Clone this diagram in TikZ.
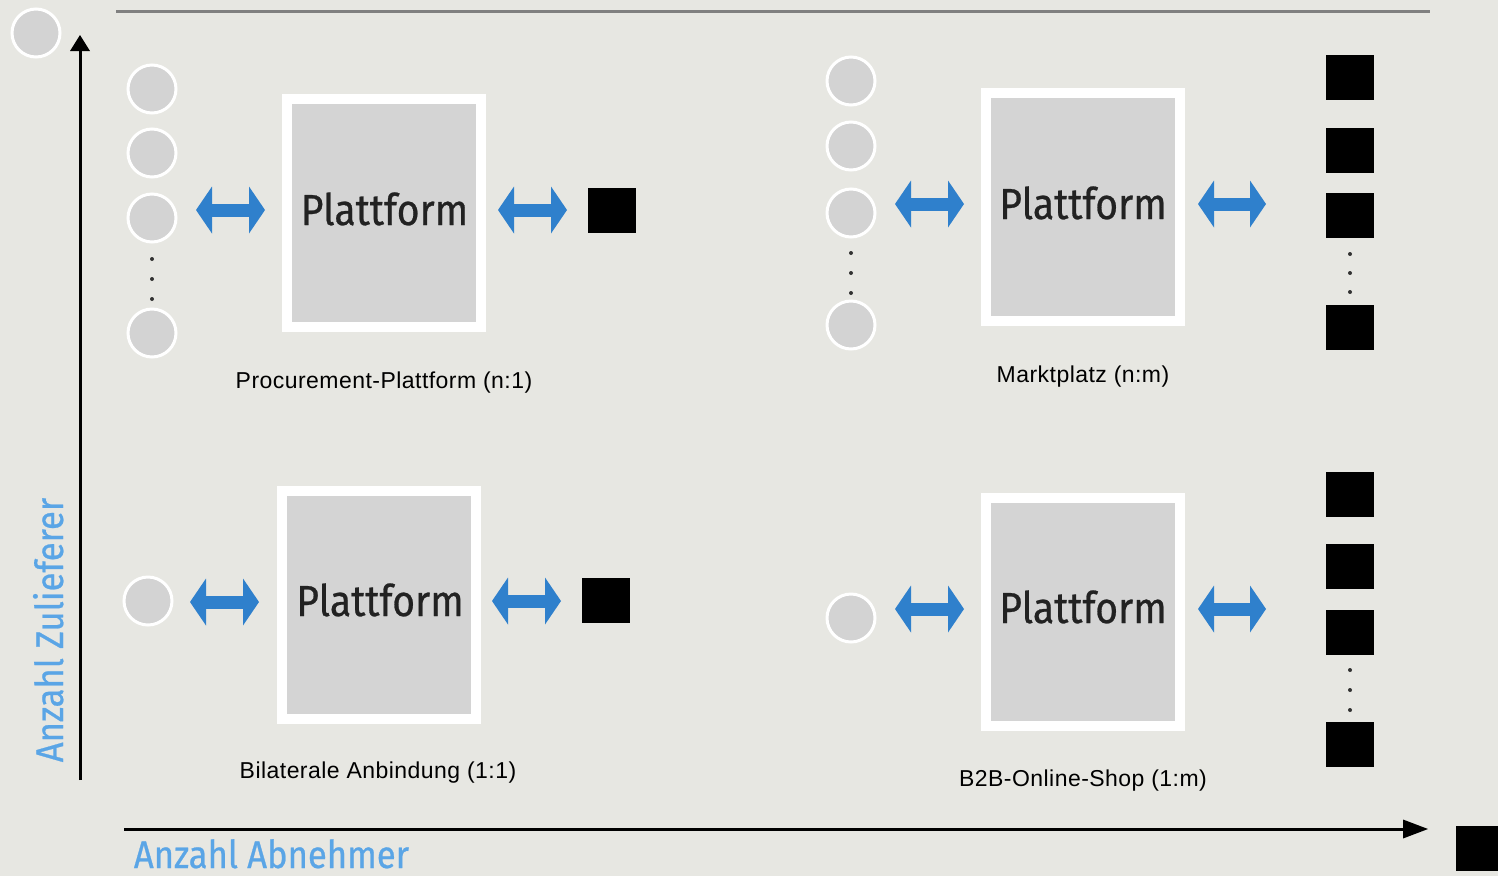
\documentclass[tikz,border=0pt]{standalone}
\usepackage{fontspec}
\setmainfont{Liberation Sans}
\newfontfamily\dinfont[FakeStretch=0.9,FakeBold=0.6]{Fira Sans}
\newfontfamily\labfont[LetterSpace=2]{Liberation Sans}
\usetikzlibrary{arrows.meta}
\definecolor{bg}{RGB}{231,231,226}
\definecolor{boxgray}{RGB}{212,212,212}
\definecolor{circgray}{RGB}{211,211,211}
\definecolor{arrowblue}{RGB}{47,128,204}
\definecolor{axisblue}{RGB}{90,165,230}
\definecolor{textdark}{RGB}{34,34,34}
\definecolor{topline}{RGB}{128,128,128}
\definecolor{dotc}{RGB}{50,50,50}
\begin{document}
\begin{tikzpicture}[x=1pt,y=-1pt,
  circ/.style={circle, fill=circgray, draw=white, line width=3pt, minimum size=48pt, inner sep=0pt},
  sq/.style={rectangle, fill=black, minimum width=48pt, minimum height=45pt, inner sep=0pt},
  platbox/.style={rectangle, fill=boxgray, draw=white, line width=10pt, minimum width=194pt, minimum height=228pt, inner sep=0pt},
  plat/.style={font=\dinfont\fontsize{43.5}{44}\selectfont, text=textdark, anchor=base, inner sep=0pt},
  lab/.style={font=\labfont\fontsize{23}{24}\selectfont, text=black, anchor=base, inner sep=0pt},
  axlab/.style={font=\dinfont\fontsize{38.5}{40}\selectfont, text=axisblue, anchor=base, inner sep=0pt},
  dotn/.style={circle, fill=dotc, minimum size=4pt, inner sep=0pt},
  barrow/.style={draw=arrowblue, line width=13pt,
    {Triangle[width=47pt,length=16pt,line width=0pt]}-{Triangle[width=47pt,length=16pt,line width=0pt]}},
  axis/.style={draw=black, line width=3pt},
]
\clip (0,0) rectangle (1498,876);
\fill[bg] (0,0) rectangle (1498,876);

% top rule
\coordinate (tl) at (116,11);
\coordinate (tr) at (1430,11);
\draw[topline, line width=3pt] (tl) -- (tr);

% corner markers
\node[circ] (cornerc) at (36,33) {};
\node[sq] (cornersq) at (1480,848.5) {};

% axes
\coordinate (ya0) at (80,780);
\coordinate (ya1) at (80,35);
\coordinate (xa0) at (124,829);
\coordinate (xa1) at (1428,829);
\draw[axis, -{Triangle[width=20pt,length=16pt,line width=0pt]}] (ya0) -- (ya1);
\draw[axis, -{Triangle[width=19pt,length=25pt,line width=0pt]}] (xa0) -- (xa1);
\node[axlab, rotate=90] (ylab) at (63,630) {Anzahl Zulieferer};
\node[axlab] (xlab) at (271.5,868) {Anzahl Abnehmer};

% ---------- Panel 1: Procurement-Plattform (n:1)
\node[circ] (p1c1) at (152,89) {};
\node[circ] (p1c2) at (152,153) {};
\node[circ] (p1c3) at (152,218) {};
\node[circ] (p1c4) at (152,333) {};
\node[dotn] (p1d1) at (152,259) {};
\node[dotn] (p1d2) at (152,279) {};
\node[dotn] (p1d3) at (152,299) {};
\node[platbox] (p1box) at (384,213) {};
\node[plat] (p1t) at (384.5,225) {Plattform};
\node[sq] (p1s) at (611.5,210) {};
\coordinate (p1la) at (196,210); \coordinate (p1lb) at (265,210);
\coordinate (p1ra) at (498,210); \coordinate (p1rb) at (567,210);
\draw[barrow] (p1la) -- (p1lb);
\draw[barrow] (p1ra) -- (p1rb);
\node[lab] (p1lab) at (384,388) {Procurement-Plattform (n:1)};

% ---------- Panel 2: Marktplatz (n:m)
\node[circ] (p2c1) at (851,81) {};
\node[circ] (p2c2) at (851,146) {};
\node[circ] (p2c3) at (851,213) {};
\node[circ] (p2c4) at (851,325) {};
\node[dotn] (p2d1) at (851,253) {};
\node[dotn] (p2d2) at (851,273) {};
\node[dotn] (p2d3) at (851,293) {};
\node[platbox] (p2box) at (1083,207) {};
\node[plat] (p2t) at (1083,219) {Plattform};
\node[sq] (p2s1) at (1350,77.5) {};
\node[sq] (p2s2) at (1350,150) {};
\node[sq] (p2s3) at (1350,215.5) {};
\node[sq] (p2s4) at (1350,327.5) {};
\node[dotn] (p2e1) at (1350,254) {};
\node[dotn] (p2e2) at (1350,273) {};
\node[dotn] (p2e3) at (1350,292) {};
\coordinate (p2la) at (895,204); \coordinate (p2lb) at (964,204);
\coordinate (p2ra) at (1198,204); \coordinate (p2rb) at (1266,204);
\draw[barrow] (p2la) -- (p2lb);
\draw[barrow] (p2ra) -- (p2rb);
\node[lab] (p2lab) at (1083,382) {Marktplatz (n:m)};

% ---------- Panel 3: Bilaterale Anbindung (1:1)
\node[circ] (p3c) at (148,601) {};
\node[platbox] (p3box) at (378.5,605) {};
\node[plat] (p3t) at (380,616) {Plattform};
\node[sq] (p3s) at (605.5,600) {};
\coordinate (p3la) at (190,602); \coordinate (p3lb) at (259,602);
\coordinate (p3ra) at (492,601); \coordinate (p3rb) at (561,601);
\draw[barrow] (p3la) -- (p3lb);
\draw[barrow] (p3ra) -- (p3rb);
\node[lab] (p3lab) at (378,778) {Bilaterale Anbindung (1:1)};

% ---------- Panel 4: B2B-Online-Shop (1:m)
\node[circ] (p4c) at (851,618) {};
\node[platbox] (p4box) at (1083,611.5) {};
\node[plat] (p4t) at (1083,623) {Plattform};
\node[sq] (p4s1) at (1350,494) {};
\node[sq] (p4s2) at (1350,566) {};
\node[sq] (p4s3) at (1350,632) {};
\node[sq] (p4s4) at (1350,744.5) {};
\node[dotn] (p4e1) at (1350,670) {};
\node[dotn] (p4e2) at (1350,690) {};
\node[dotn] (p4e3) at (1350,710) {};
\coordinate (p4la) at (895,609); \coordinate (p4lb) at (964,609);
\coordinate (p4ra) at (1198,609); \coordinate (p4rb) at (1266,609);
\draw[barrow] (p4la) -- (p4lb);
\draw[barrow] (p4ra) -- (p4rb);
\node[lab] (p4lab) at (1083,786) {B2B-Online-Shop (1:m)};
\end{tikzpicture}
\end{document}
